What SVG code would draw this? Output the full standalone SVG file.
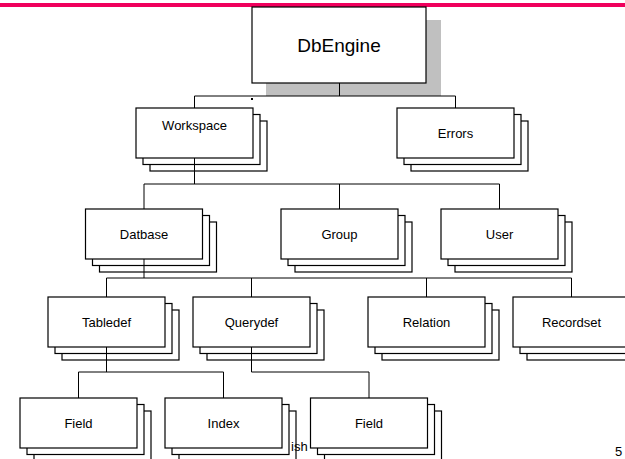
<svg xmlns="http://www.w3.org/2000/svg" width="625" height="459" viewBox="0 0 625 459">
<style>
.b{fill:#fff;stroke:#000;stroke-width:1.2}
.t{font-family:"Liberation Sans",Arial,sans-serif;font-size:13px;fill:#000;text-anchor:middle}
.f{font-family:"Liberation Sans",Arial,sans-serif;font-size:13px;fill:#000}
.c{fill:none;stroke:#000;stroke-width:1}
</style>
<defs>
<g id="stack">
<rect class="b" x="14" y="13" width="117" height="50"/>
<rect class="b" x="7" y="6.5" width="117" height="50"/>
<rect class="b" x="0" y="0" width="117" height="50"/>
</g>
</defs>
<rect x="0" y="3" width="625" height="4" fill="#f0005c"/>
<text class="f" x="615" y="456">5</text>

<g id="dbengine">
<rect x="266" y="20" width="175" height="76" fill="#c0c0c0"/>
<rect class="b" x="252" y="7" width="174" height="76"/>
<text class="t" x="339" y="52" style="font-size:19px">DbEngine</text>
</g>
<g id="workspace" transform="translate(136,108)"><use href="#stack"/><text class="t" x="58.5" y="21.5">Workspace</text></g>
<g id="errors" transform="translate(397,108)"><use href="#stack"/><text class="t" x="58.5" y="29.5">Errors</text></g>
<g id="datbase" transform="translate(85.5,209)"><use href="#stack"/><text class="t" x="58.5" y="29.5">Datbase</text></g>
<g id="group" transform="translate(281,209)"><use href="#stack"/><text class="t" x="58.5" y="29.5">Group</text></g>
<g id="user" transform="translate(441,209)"><use href="#stack"/><text class="t" x="58.5" y="29.5">User</text></g>
<g id="tabledef" transform="translate(48,297)"><use href="#stack"/><text class="t" x="58.5" y="29.5">Tabledef</text></g>
<g id="querydef" transform="translate(193,297)"><use href="#stack"/><text class="t" x="58.5" y="29.5">Querydef</text></g>
<g id="relation" transform="translate(368,297)"><use href="#stack"/><text class="t" x="58.5" y="29.5">Relation</text></g>
<g id="recordset" transform="translate(513,297)"><use href="#stack"/><text class="t" x="58.5" y="29.5">Recordset</text></g>
<g id="field1" transform="translate(20,398)"><use href="#stack"/><text class="t" x="58.5" y="29.5">Field</text></g>
<g id="index" transform="translate(165,398)"><use href="#stack"/><text class="t" x="58.5" y="29.5">Index</text></g>
<text class="f" x="291" y="451">ish</text>
<g id="field2" transform="translate(310.5,398)"><use href="#stack"/><text class="t" x="58.5" y="29.5">Field</text></g>

<g id="connectors" class="c">
<path d="M339.5 83V96M194.5 96H455.5M194.5 96V108M455.5 96V108"/>
<path d="M194.5 158V184M144 184H499.5M144 184V209M339.5 184V209M499.5 184V209"/>
<path d="M144 259V278M106.5 278H571.5M106.5 278V297M251.5 278V297M426.5 278V297M571.5 278V297"/>
<path d="M106.5 347V372M78.5 372H223.5M78.5 372V398M223.5 372V398"/>
<path d="M251.5 347V372H369V398"/>
</g>
<rect x="251" y="98" width="2" height="2" fill="#000"/>
</svg>
